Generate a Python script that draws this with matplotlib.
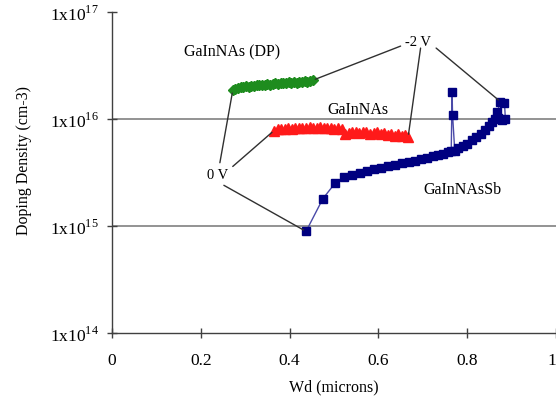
import numpy as np
import matplotlib.pyplot as plt

plt.rcParams['font.family'] = 'Liberation Serif'
plt.rcParams['mathtext.fontset'] = 'custom'
plt.rcParams['mathtext.rm'] = 'Liberation Serif'

# GaInNAs (DP), doping in 1e16 cm-3
dp_x = [0.272, 0.278, 0.284, 0.290, 0.296, 0.302, 0.308, 0.314, 0.320, 0.326,
        0.332, 0.338, 0.344, 0.350, 0.356, 0.362, 0.368, 0.374, 0.380, 0.386,
        0.392, 0.398, 0.404, 0.410, 0.416, 0.422, 0.428, 0.434, 0.440, 0.446, 0.452]
dp_y = [1.85, 1.92, 1.95, 1.97, 1.99, 2.02, 2.00, 2.05, 2.03, 2.07,
        2.06, 2.09, 2.08, 2.12, 2.10, 2.13, 2.15, 2.12, 2.17, 2.15,
        2.18, 2.20, 2.16, 2.21, 2.19, 2.23, 2.20, 2.25, 2.22, 2.28, 2.30]

# GaInNAs, doping in 1e15 cm-3
gn_x = [0.365, 0.373, 0.381, 0.389, 0.397, 0.405, 0.413, 0.421, 0.429, 0.437,
        0.445, 0.453, 0.461, 0.469, 0.477, 0.485, 0.493, 0.501, 0.509, 0.517,
        0.525, 0.533, 0.541, 0.549, 0.557, 0.565, 0.573, 0.581, 0.589, 0.597,
        0.605, 0.613, 0.621, 0.629, 0.637, 0.645, 0.653, 0.661, 0.667]
gn_y = [7.8, 8.0, 8.1, 8.0, 8.2, 8.1, 8.3, 8.2, 8.3, 8.2,
        8.4, 8.3, 8.2, 8.4, 8.3, 8.2, 8.3, 8.1, 8.2, 8.0,
        7.3, 7.4, 7.6, 7.5, 7.4, 7.6, 7.5, 7.3, 7.4, 7.5,
        7.2, 7.4, 7.1, 7.3, 7.0, 7.2, 6.9, 7.1, 6.8]

# GaInNAsSb, doping in 1e15 cm-3
sb_x = [0.437, 0.475, 0.502, 0.523, 0.541, 0.558, 0.574, 0.590, 0.606, 0.622,
        0.638, 0.654, 0.668, 0.682, 0.696, 0.710, 0.722, 0.734, 0.746, 0.756,
        0.764, 0.766, 0.767, 0.772, 0.780, 0.790, 0.800, 0.810, 0.820, 0.830,
        0.840, 0.848, 0.856, 0.862, 0.868, 0.875, 0.884, 0.886, 0.878, 0.870]
sb_y = [0.89, 1.8, 2.5, 2.9, 3.0, 3.15, 3.3, 3.4, 3.5, 3.6,
        3.75, 3.85, 3.95, 4.05, 4.2, 4.35, 4.5, 4.6, 4.75, 4.9,
        5.0, 17.8, 11.0, 5.0, 5.3, 5.6, 5.9, 6.3, 6.8, 7.3,
        7.9, 8.6, 9.3, 10.0, 11.7, 14.5, 14.0, 10.0, 9.8, 10.2]

dp_y = np.array(dp_y) * 1e16
gn_y = np.array(gn_y) * 1e15
sb_y = np.array(sb_y) * 1e15

fig = plt.figure(figsize=(5.56, 4.02), dpi=100)
ax = fig.add_axes([0.2014, 0.1692, 0.7986, 0.7985])

ax.axhline(1e16, color='#808080', lw=1.2, zorder=1)
ax.axhline(1e15, color='#808080', lw=1.2, zorder=1)

ax.plot(dp_x, dp_y, color='#1e8c1e', marker='D', ms=5, lw=1.5, zorder=3)
ax.plot(gn_x, gn_y, color='#ff1a1a', marker='^', ms=6.5, lw=1.2, zorder=3)
ax.plot(sb_x, sb_y, color='#4a4aa8', lw=1.0, marker='s', ms=6,
        mfc='#000080', mec='#000080', zorder=3)

ax.set_yscale('log')
ax.set_xlim(0, 1)
ax.set_ylim(1e14, 1e17)
ax.set_xticks([0, 0.2, 0.4, 0.6, 0.8, 1.0])
ax.set_xticklabels(['0', '0.2', '0.4', '0.6', '0.8', '1'])
ax.get_xticklabels()[-1].set_ha('right')
ax.set_yticks([1e14, 1e15, 1e16, 1e17])
ax.set_yticklabels(['1x10$^{14}$', '1x10$^{15}$', '1x10$^{16}$', '1x10$^{17}$'])
ax.minorticks_off()
ax.tick_params(axis='both', direction='inout', length=7, width=1, colors='#404040',
               labelsize=12.5, labelcolor='black')
ax.tick_params(axis='y', pad=6)
ax.tick_params(axis='x', pad=10)
for s in ['top', 'right']:
    ax.spines[s].set_visible(False)
for s in ['left', 'bottom']:
    ax.spines[s].set_color('#404040')
    ax.spines[s].set_linewidth(1)

ax.set_xlabel('Wd (microns)', fontsize=11.5, labelpad=8)
ax.set_ylabel('Doping Density (cm-3)', fontsize=11.5)
ax.yaxis.set_label_coords(-0.18, 0.54)

ax.text(0.27, 4.3e16, 'GaInNAs (DP)', fontsize=11.5, ha='center', va='center')
ax.text(0.555, 1.25e16, 'GaInNAs', fontsize=11.5, ha='center', va='center')
ax.text(0.79, 2.2e15, 'GaInNAsSb', fontsize=11.5, ha='center', va='center')

ax.text(0.69, 5.3e16, '-2 V', fontsize=10.5, ha='center', va='center')
ax.text(0.238, 3.0e15, '0 V', fontsize=10.5, ha='center', va='center')

lk = dict(arrowstyle='-', color='#303030', lw=1, shrinkA=0, shrinkB=2)
# -2 V leaders
ax.annotate('', xy=(dp_x[-1], dp_y[-1]), xytext=(0.65, 4.8e16), arrowprops=lk)
ax.annotate('', xy=(gn_x[-1], gn_y[-1]), xytext=(0.695, 4.6e16), arrowprops=lk)
ax.annotate('', xy=(sb_x[35], sb_y[35]), xytext=(0.73, 4.6e16), arrowprops=lk)
# 0 V leaders
ax.annotate('', xy=(dp_x[0], dp_y[0]), xytext=(0.243, 3.9e15), arrowprops=lk)
ax.annotate('', xy=(gn_x[0], gn_y[0]), xytext=(0.272, 3.6e15), arrowprops=lk)
ax.annotate('', xy=(sb_x[0], sb_y[0]), xytext=(0.252, 2.4e15), arrowprops=lk)

fig.savefig('out.png', dpi=100)
